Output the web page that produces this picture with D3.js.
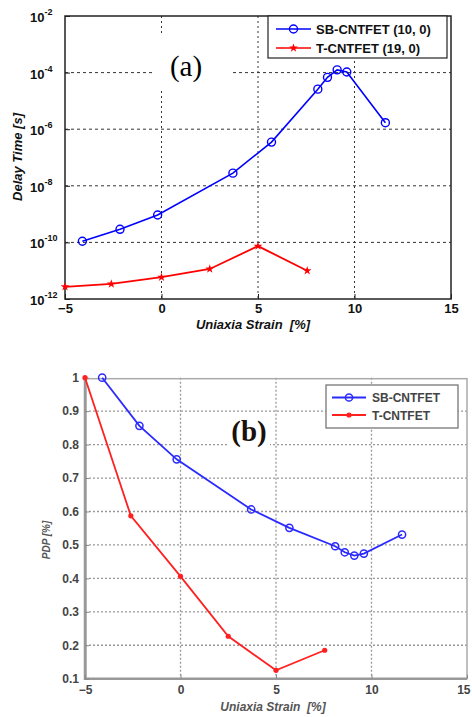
<!DOCTYPE html>
<html>
<head>
<meta charset="utf-8">
<title>Delay time and PDP vs strain</title>
<style>
  body { margin: 0; background: #fff; }
  svg { display: block; }
</style>
</head>
<body>
<script src="https://cdn.jsdelivr.net/npm/d3@7"></script>
<script>
// ---- data ----
var sbStrain = [-4.1, -2.15, -0.2, 3.7, 5.7, 8.1, 8.6, 9.1, 9.6, 11.6];
var tStrain  = [-5, -2.6, 0, 2.5, 5, 7.55];

var sbDelay = [1.1e-10, 2.9e-10, 9.3e-10, 2.8e-8, 3.5e-7, 2.6e-5, 6.8e-5, 1.25e-4, 1.05e-4, 1.7e-6];
var tDelay  = [2.7e-12, 3.4e-12, 5.9e-12, 1.15e-11, 7.4e-11, 1.0e-11];

var sbPdp = [1.0, 0.856, 0.756, 0.606, 0.551, 0.496, 0.478, 0.468, 0.474, 0.531];
var tPdp  = [1.0, 0.587, 0.406, 0.227, 0.125, 0.185];

var xTicks = [-5, 0, 5, 10, 15];
var delayTicks = [-12, -10, -8, -6, -4, -2];   // exponents
var pdpTicks = [0.1, 0.2, 0.3, 0.4, 0.5, 0.6, 0.7, 0.8, 0.9, 1];

var namesA = ["SB-CNTFET (10, 0)", "T-CNTFET (19, 0)"];
var namesB = ["SB-CNTFET", "T-CNTFET"];

var W = 472, H = 717;
var svg = d3.select("body").append("svg").attr("width", W).attr("height", H);

function pts(xs, ys) { return xs.map(function(x, i){ return [x, ys[i]]; }); }

// =============== panel (a) ===============
var xa = d3.scaleLinear().domain([-5, 15]).range([65, 451]);
var ya = d3.scaleLog().domain([1e-12, 1e-2]).range([299, 16]);
var ga = svg.append("g").attr("font-family", "Liberation Sans, Arial, sans-serif");

// grid
ga.append("g").selectAll("line").data(xTicks.slice(1, -1)).enter().append("line")
  .attr("x1", xa).attr("x2", xa).attr("y1", 16).attr("y2", 299)
  .attr("stroke", "#333").attr("stroke-width", 1).attr("stroke-dasharray", "2,3");
ga.append("g").selectAll("line").data(delayTicks.slice(1, -1)).enter().append("line")
  .attr("x1", 65).attr("x2", 451)
  .attr("y1", function(d){ return ya(Math.pow(10, d)); })
  .attr("y2", function(d){ return ya(Math.pow(10, d)); })
  .attr("stroke", "#333").attr("stroke-width", 1).attr("stroke-dasharray", "3,3");

// "(a)" label with white box
ga.append("rect").attr("x", 152).attr("y", 34).attr("width", 80).attr("height", 56).attr("fill", "#fff");
ga.append("text").attr("x", 186).attr("y", 76).attr("text-anchor", "middle")
  .attr("font-family", "Liberation Serif, Times New Roman, serif").attr("font-size", 29).text("(a)");

// axes
var xAxisA = d3.axisBottom(xa).tickValues(xTicks).tickSize(-5).tickPadding(5).tickFormat(d3.format("d"));
ga.append("g").attr("transform", "translate(0,299)").call(xAxisA)
  .call(function(g){
    g.select(".domain").remove();
    g.selectAll("text").attr("font-size", 13).attr("font-weight", "bold").attr("fill", "#111")
      .attr("font-family", "Liberation Sans, Arial, sans-serif");
    g.selectAll("line").attr("stroke", "#222");
  });
var yAxisA = d3.axisLeft(ya).tickValues(delayTicks.map(function(e){ return Math.pow(10, e); }))
  .tickSize(-5).tickFormat("");
ga.append("g").attr("transform", "translate(65,0)").call(yAxisA)
  .call(function(g){ g.select(".domain").remove(); g.selectAll("line").attr("stroke", "#222"); });
var ylab = ga.append("g").selectAll("text").data(delayTicks).enter().append("text")
  .attr("x", 30).attr("y", function(d){ return ya(Math.pow(10, d)) + 6; })
  .attr("font-size", 13).attr("font-weight", "bold").attr("fill", "#111");
ylab.append("tspan").text("10");
ylab.append("tspan").attr("dy", -7).attr("font-size", 9).text(function(d){ return "-" + (-d); });

ga.append("rect").attr("x", 65).attr("y", 16).attr("width", 386).attr("height", 283)
  .attr("fill", "none").attr("stroke", "#222").attr("stroke-width", 1.5);

// axis titles
ga.append("text").attr("x", 253).attr("y", 329).attr("text-anchor", "middle")
  .attr("font-size", 13).attr("font-weight", "bold").attr("font-style", "italic").attr("fill", "#111")
  .attr("xml:space", "preserve").text("Uniaxia Strain  [%]");
ga.append("text").attr("transform", "translate(22,157) rotate(-90)").attr("text-anchor", "middle")
  .attr("font-size", 13).attr("font-weight", "bold").attr("font-style", "italic").attr("fill", "#111")
  .text("Delay Time [s]");

// series
var lineA = d3.line().x(function(d){ return xa(d[0]); }).y(function(d){ return ya(d[1]); });
ga.append("path").datum(pts(sbStrain, sbDelay)).attr("d", lineA)
  .attr("fill", "none").attr("stroke", "#0000ff").attr("stroke-width", 1.6);
ga.append("path").datum(pts(tStrain, tDelay)).attr("d", lineA)
  .attr("fill", "none").attr("stroke", "#ff0000").attr("stroke-width", 1.8);
ga.append("g").selectAll("circle").data(pts(sbStrain, sbDelay)).enter().append("circle")
  .attr("cx", function(d){ return xa(d[0]); }).attr("cy", function(d){ return ya(d[1]); })
  .attr("r", 4).attr("fill", "none").attr("stroke", "#0000ff").attr("stroke-width", 1.4);
var star = d3.symbol().type(d3.symbolStar).size(24);
ga.append("g").selectAll("path").data(pts(tStrain, tDelay)).enter().append("path")
  .attr("d", star).attr("fill", "#ff0000")
  .attr("transform", function(d){ return "translate(" + xa(d[0]) + "," + ya(d[1]) + ")"; });

// legend
var legA = ga.append("g");
legA.append("rect").attr("x", 268).attr("y", 16).attr("width", 179).attr("height", 42)
  .attr("fill", "#fff").attr("stroke", "#222").attr("stroke-width", 1.2);
var legAColors = ["#0000ff", "#ff0000"];
namesA.forEach(function(n, i){
  var y = 29 + i * 19;
  legA.append("line").attr("x1", 276).attr("x2", 311).attr("y1", y).attr("y2", y)
    .attr("stroke", legAColors[i]).attr("stroke-width", 1.6);
  if (i === 0) legA.append("circle").attr("cx", 293.5).attr("cy", y).attr("r", 4)
    .attr("fill", "none").attr("stroke", "#0000ff").attr("stroke-width", 1.4);
  else legA.append("path").attr("d", star).attr("fill", "#ff0000")
    .attr("transform", "translate(293.5," + y + ")");
  legA.append("text").attr("x", 316).attr("y", y + 5).attr("font-size", 13).attr("font-weight", "bold")
    .attr("fill", "#111").text(n);
});

// =============== panel (b) ===============
var xb = d3.scaleLinear().domain([-5, 15]).range([85, 467]);
var yb = d3.scaleLinear().domain([0.1, 1]).range([678.7, 377.7]);
var gb = svg.append("g").attr("font-family", "Liberation Sans, Arial, sans-serif");

gb.append("g").selectAll("line").data(xTicks.slice(1, -1)).enter().append("line")
  .attr("x1", xb).attr("x2", xb).attr("y1", 377.7).attr("y2", 678.7)
  .attr("stroke", "#999").attr("stroke-width", 1.3).attr("stroke-dasharray", "2,2");
gb.append("g").selectAll("line").data(pdpTicks.slice(1, -1)).enter().append("line")
  .attr("x1", 85).attr("x2", 467).attr("y1", yb).attr("y2", yb)
  .attr("stroke", "#999").attr("stroke-width", 1.3).attr("stroke-dasharray", "2,2");

gb.append("rect").attr("x", 86).attr("y", 378.7).attr("width", 381).attr("height", 300)
  .attr("fill", "none").attr("stroke", "#aaa").attr("stroke-width", 1.5);
gb.append("path").attr("d", "M85,377.7V678.7H467").attr("fill", "none")
  .attr("stroke", "#999").attr("stroke-width", 2.5);

var xAxisB = d3.axisBottom(xb).tickValues(xTicks).tickSize(-4).tickPadding(7).tickFormat(d3.format("d"));
gb.append("g").attr("transform", "translate(0,678.7)").call(xAxisB)
  .call(function(g){
    g.select(".domain").remove();
    g.selectAll("text").attr("font-size", 12).attr("font-weight", "bold").attr("fill", "#444")
      .attr("font-family", "Liberation Sans, Arial, sans-serif");
    g.selectAll(".tick").filter(function(d){ return d === 15; }).select("text")
      .attr("text-anchor", "end").attr("dx", 3);
    g.selectAll("line").attr("stroke", "#888");
  });
var yAxisB = d3.axisLeft(yb).tickValues(pdpTicks).tickSize(-4).tickPadding(6)
  .tickFormat(function(d){ return d === 1 ? "1" : d3.format(".1f")(d); });
gb.append("g").attr("transform", "translate(85,0)").call(yAxisB)
  .call(function(g){
    g.select(".domain").remove();
    g.selectAll("text").attr("font-size", 12).attr("font-weight", "bold").attr("fill", "#444")
      .attr("font-family", "Liberation Sans, Arial, sans-serif");
    g.selectAll("line").attr("stroke", "#888");
  });

gb.append("text").attr("x", 273).attr("y", 711).attr("text-anchor", "middle")
  .attr("font-size", 12).attr("font-weight", "bold").attr("font-style", "italic").attr("fill", "#555")
  .attr("xml:space", "preserve").text("Uniaxia Strain  [%]");
gb.append("text").attr("transform", "translate(50,540) rotate(-90)").attr("text-anchor", "middle")
  .attr("font-size", 10).attr("font-weight", "bold").attr("font-style", "italic").attr("fill", "#555")
  .text("PDP [%]");

// "(b)"
gb.append("rect").attr("x", 228).attr("y", 413).attr("width", 42).attr("height", 34).attr("fill", "#fff");
gb.append("text").attr("x", 249).attr("y", 441).attr("text-anchor", "middle")
  .attr("font-family", "Liberation Serif, Times New Roman, serif").attr("font-weight", "bold")
  .attr("font-size", 29).attr("fill", "#1a1208").text("(b)");

var lineB = d3.line().x(function(d){ return xb(d[0]); }).y(function(d){ return yb(d[1]); });
gb.append("path").datum(pts(sbStrain, sbPdp)).attr("d", lineB)
  .attr("fill", "none").attr("stroke", "#2a2aff").attr("stroke-width", 1.8);
gb.append("path").datum(pts(tStrain, tPdp)).attr("d", lineB)
  .attr("fill", "none").attr("stroke", "#ff2020").attr("stroke-width", 1.8);
gb.append("g").selectAll("circle").data(pts(sbStrain, sbPdp)).enter().append("circle")
  .attr("cx", function(d){ return xb(d[0]); }).attr("cy", function(d){ return yb(d[1]); })
  .attr("r", 3.6).attr("fill", "none").attr("stroke", "#2a2aff").attr("stroke-width", 1.5);
gb.append("g").selectAll("circle").data(pts(tStrain, tPdp)).enter().append("circle")
  .attr("cx", function(d){ return xb(d[0]); }).attr("cy", function(d){ return yb(d[1]); })
  .attr("r", 2.6).attr("fill", "#ff2020");

var legB = gb.append("g");
legB.append("rect").attr("x", 326).attr("y", 385).attr("width", 132).attr("height", 43)
  .attr("fill", "#fff").attr("stroke", "#777").attr("stroke-width", 1.3);
var legBColors = ["#2a2aff", "#ff2020"];
namesB.forEach(function(n, i){
  var y = 397.5 + i * 17.5;
  legB.append("line").attr("x1", 332).attr("x2", 366).attr("y1", y).attr("y2", y)
    .attr("stroke", legBColors[i]).attr("stroke-width", 1.8);
  if (i === 0) legB.append("circle").attr("cx", 349).attr("cy", y).attr("r", 3.6)
    .attr("fill", "none").attr("stroke", legBColors[0]).attr("stroke-width", 1.5);
  else legB.append("circle").attr("cx", 349).attr("cy", y).attr("r", 2.6).attr("fill", legBColors[1]);
  legB.append("text").attr("x", 372).attr("y", y + 4.5).attr("font-size", 12).attr("font-weight", "bold")
    .attr("fill", "#444").text(n);
});
</script>
</body>
</html>
